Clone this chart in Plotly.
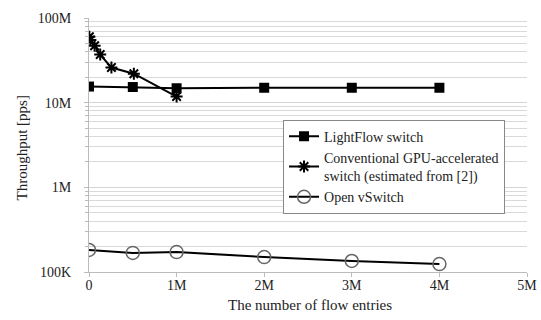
import plotly.graph_objects as go

# Data (x in flow entries, y in packets per second)
lightflow_x = [0, 0.5e6, 1e6, 2e6, 3e6, 4e6]
lightflow_y = [15.5e6, 15.3e6, 14.8e6, 15.0e6, 15.0e6, 15.0e6]

gpu_x = [0.004e6, 0.016e6, 0.064e6, 0.128e6, 0.256e6, 0.512e6, 1.0e6]
gpu_y = [60e6, 55e6, 47e6, 37e6, 26e6, 22e6, 11.8e6]

ovs_x = [0, 0.5e6, 1e6, 2e6, 3e6, 4e6]
ovs_y = [182e3, 168e3, 172e3, 150e3, 135e3, 124e3]

x_tickvals = [0, 1e6, 2e6, 3e6, 4e6, 5e6]
x_ticktext = ["0", "1M", "2M", "3M", "4M", "5M"]
y_tickvals = [1e5, 1e6, 1e7, 1e8]
y_ticktext = ["100K", "1M", "10M", "100M"]

x_title = "The number of flow entries"
y_title = "Throughput [pps]"

font = "Liberation Serif, Times New Roman, serif"

fig = go.Figure()
fig.add_trace(go.Scatter(
    x=lightflow_x, y=lightflow_y, mode="lines+markers",
    name="LightFlow switch",
    line=dict(color="black", width=2),
    marker=dict(symbol="square", size=10, color="black"),
))
fig.add_trace(go.Scatter(
    x=gpu_x, y=gpu_y, mode="lines+markers",
    name="Conventional GPU-accelerated<br>switch (estimated from [2])",
    line=dict(color="black", width=2),
    marker=dict(symbol="asterisk-open", size=10, color="black",
                line=dict(color="black", width=2)),
))
fig.add_trace(go.Scatter(
    x=ovs_x, y=ovs_y, mode="lines+markers",
    name="Open vSwitch",
    line=dict(color="black", width=2),
    marker=dict(symbol="circle-open", size=13, color="#666666",
                line=dict(color="#666666", width=1.5)),
))

fig.update_layout(
    width=541, height=320,
    margin=dict(l=89, r=14, t=18, b=48),
    paper_bgcolor="white", plot_bgcolor="white",
    font=dict(family=font, size=14, color="#222222"),
    showlegend=True,
    legend=dict(
        x=0.443, y=0.600, xanchor="left", yanchor="top",
        bgcolor="white", bordercolor="#888888", borderwidth=1,
        font=dict(family=font, size=14, color="#222222"),
        tracegroupgap=0, itemwidth=30,
    ),
    annotations=[
        dict(text=x_title, xref="paper", yref="paper", x=0.505, y=-0.13,
             xanchor="center", yanchor="middle", showarrow=False,
             font=dict(family=font, size=15, color="#222222")),
        dict(text=y_title, xref="paper", yref="paper", x=-0.153, y=0.49,
             xanchor="center", yanchor="middle", showarrow=False, textangle=-90,
             font=dict(family=font, size=15, color="#222222")),
    ],
)
fig.update_xaxes(
    range=[0, 5e6], tickvals=x_tickvals, ticktext=x_ticktext,
    showgrid=False, zeroline=False, automargin=False,
    showline=True, linecolor="#bbbbbb", linewidth=1,
    ticks="outside", ticklen=4, tickcolor="#bbbbbb",
    ticklabelstandoff=-4,
    tickfont=dict(family=font, size=14),
)
fig.update_yaxes(
    type="log", range=[5, 8], tickvals=y_tickvals, ticktext=y_ticktext,
    showgrid=True, gridcolor="#d4d4d4", gridwidth=1,
    zeroline=False, automargin=False,
    showline=True, linecolor="#bbbbbb", linewidth=1,
    ticks="outside", ticklen=4, tickcolor="#bbbbbb",
    ticklabelstandoff=10,
    minor=dict(dtick="D1", showgrid=True, gridcolor="#d9d9d9", gridwidth=1,
               ticks="outside", ticklen=3, tickcolor="#bbbbbb"),
    tickfont=dict(family=font, size=14),
)

fig.write_html("out.html", config={"displayModeBar": False},
               post_script="document.body.style.margin='0';document.body.style.padding='0';")
